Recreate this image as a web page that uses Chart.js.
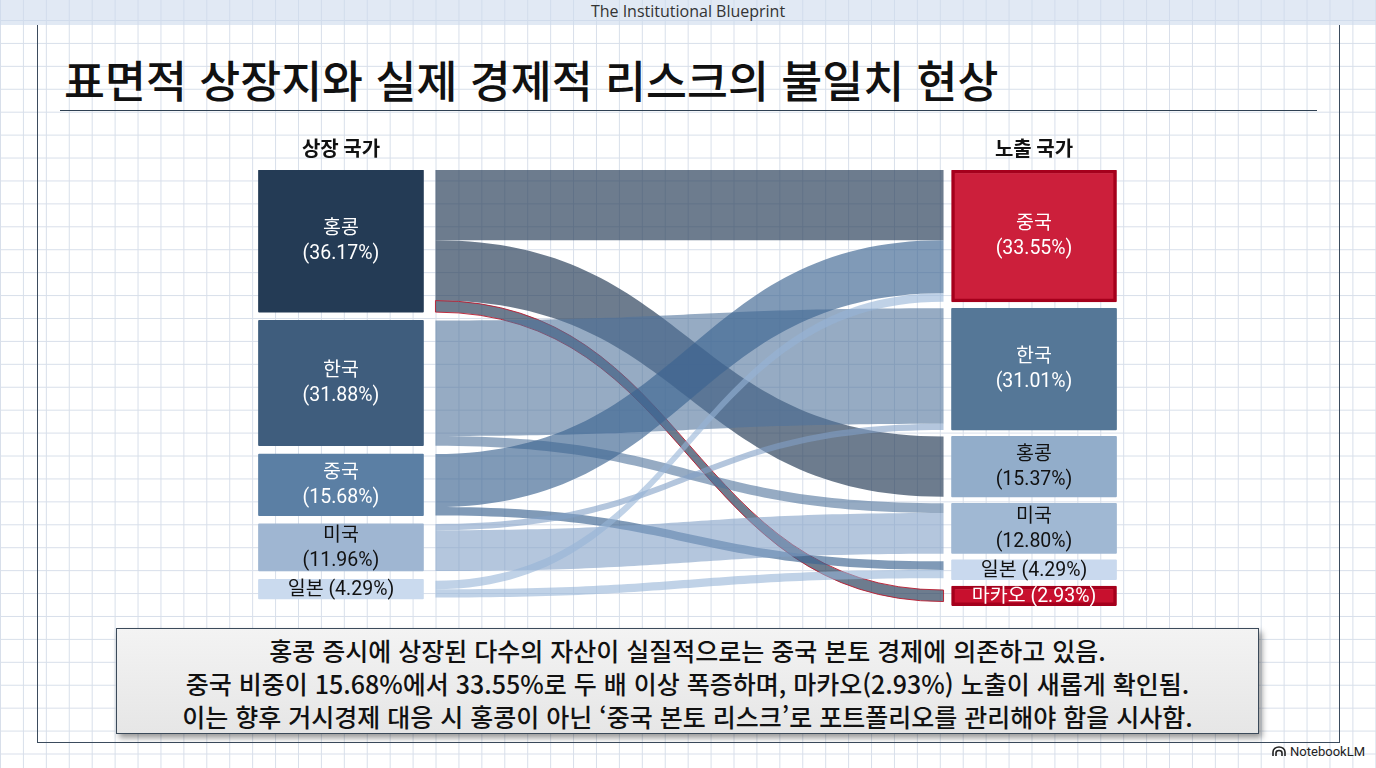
<!DOCTYPE html>
<html lang="ko">
<head>
<meta charset="utf-8">
<title>표면적 상장지와 실제 경제적 리스크의 불일치 현상</title>
<script src="https://cdn.jsdelivr.net/npm/chart.js@4.4.1/dist/chart.umd.min.js"></script>
<style>
  html, body { margin: 0; padding: 0; }
  body {
    width: 1376px; height: 768px; overflow: hidden; position: relative;
    background-color: #fff;
    background-image:
      linear-gradient(to right, #d8dfea 1px, transparent 1px),
      linear-gradient(to bottom, #d8dfea 1px, transparent 1px);
    background-size: 22.93px 22.93px;
    background-position: 0 20px;
    font-family: 'Noto Sans CJK KR', 'Noto Sans', sans-serif;
    color: #111;
  }
  .topband {
    position: absolute; left: 0; top: 0; width: 1376px; height: 25px;
    background: rgba(205, 218, 236, 0.6);
    font-family: 'Open Sans', 'Noto Sans', sans-serif;
    font-size: 16px; line-height: 23px; text-align: center; color: #333;
  }
  .frame {
    position: absolute; left: 37px; top: 25px; width: 1301px; height: 717px;
    border-left: 1.5px solid #3b4b5d; border-right: 1.5px solid #3b4b5d;
    border-bottom: 1.5px solid #3b4b5d;
  }
  h1 {
    position: absolute; left: 64px; top: 50px; margin: 0;
    font-size: 44.5px; font-weight: 500; line-height: 58px; white-space: nowrap;
  }
  .rule {
    position: absolute; left: 60px; top: 110px; width: 1257px; height: 0;
    border-top: 1.5px solid #2f4052;
  }
  #wrap { position: absolute; left: 237px; top: 126px; width: 901px; height: 484px; }
  .note {
    position: absolute; left: 116px; top: 628px; width: 1141px; height: 99px;
    border: 1.5px solid #3b4a5a;
    background: linear-gradient(#f3f3f3, #e6e6e6);
    box-shadow: 3px 4px 6px rgba(0, 0, 0, 0.4);
    text-align: center; font-size: 25px; font-weight: 500; line-height: 33px; padding-top: 5px;
    box-sizing: content-box; white-space: nowrap;
  }
  .brand {
    position: absolute; right: 11px; top: 744px;
    font-family: Roboto, 'Noto Sans', sans-serif; font-size: 13px; color: #222;
    display: flex; align-items: center; gap: 4px;
  }
</style>
</head>
<body>
<div class="topband">The Institutional Blueprint</div>
<div class="frame"></div>
<h1>표면적 상장지와 실제 경제적 리스크의 불일치 현상</h1>
<div class="rule"></div>
<div id="wrap"><canvas id="sankey" width="901" height="484"></canvas></div>
<div class="note">
  홍콩 증시에 상장된 다수의 자산이 실질적으로는 중국 본토 경제에 의존하고 있음.<br>
  중국 비중이 15.68%에서 33.55%로 두 배 이상 폭증하며, 마카오(2.93%) 노출이 새롭게 확인됨.<br>
  이는 향후 거시경제 대응 시 홍콩이 아닌 ‘중국 본토 리스크’로 포트폴리오를 관리해야 함을 시사함.
</div>
<div class="brand">
  <svg width="14" height="11" viewBox="0 0 14 11"><path d="M1 10 V6 A6 5 0 0 1 13 6 V10 M4 10 V7 A3 2.5 0 0 1 10 7 V10" fill="none" stroke="#222" stroke-width="1.6"/></svg>
  NotebookLM
</div>
<script>
// ── DATA ─────────────────────────────────────────────
const columnTitles = ['상장 국가', '노출 국가'];
const leftNodes = ['홍콩', '한국', '중국', '미국', '일본'];
const leftShares = [36.17, 31.88, 15.68, 11.96, 4.29];
const rightNodes = ['중국', '한국', '홍콩', '미국', '일본', '마카오'];
const rightShares = [33.55, 31.01, 15.37, 12.80, 4.29, 2.93];

// flows: listing country -> exposure country (%)
const flowFrom  = ['홍콩', '홍콩', '홍콩', '한국', '한국', '중국', '중국', '미국', '미국', '일본', '일본'];
const flowTo    = ['중국', '홍콩', '마카오', '한국', '미국', '중국', '일본', '한국', '미국', '중국', '일본'];
const flowValue = [17.87, 15.37, 2.93, 29.41, 2.47, 13.48, 2.20, 1.60, 10.36, 2.20, 2.09];

// ── STYLE ────────────────────────────────────────────
const leftFill  = ['#243b55', '#3f5d7d', '#5b7fa4', '#9fb6d2', '#cadaee'];
const rightFill = ['#cc1f3b', '#557797', '#92adca', '#a0b8d3', '#c9d9ee', '#c8102e'];
const leftInk   = ['#fff', '#fff', '#fff', '#111', '#111'];
const rightInk  = ['#fff', '#fff', '#111', '#111', '#111', '#fff'];
const hotNodes  = ['중국', '마카오'];
const flowFill  = {
  '홍콩': 'rgba(40,62,88,0.68)',
  '한국': 'rgba(80,115,155,0.6)',
  '중국': 'rgba(60,100,145,0.65)',
  '미국': 'rgba(130,160,198,0.6)',
  '일본': 'rgba(150,180,215,0.6)'
};
const leftGap = 2.12, rightGap = 1.63, minSpan = 5;

// node layout in share units: tiny nodes get a minimum visible height
function layout(shares, gap) {
  const start = [], pad = [];
  let acc = 0;
  shares.forEach(s => {
    const span = Math.max(s, minSpan);
    start.push(acc); pad.push((span - s) / 2);
    acc += span + gap;
  });
  return { start, pad };
}
const L = layout(leftShares, leftGap);
const R = layout(rightShares, rightGap);

const bars = [
  ...leftShares.map((s, i) => ({ x: 0, y: [L.start[i], L.start[i] + Math.max(s, minSpan)] })),
  ...rightShares.map((s, i) => ({ x: 1, y: [R.start[i], R.start[i] + Math.max(s, minSpan)] }))
];
const nLeft = leftNodes.length;

// ── FLOWS PLUGIN ─────────────────────────────────────
const flowPlugin = {
  id: 'flows',
  beforeDatasetsDraw(chart) {
    const ctx = chart.ctx;
    const y = chart.scales.y;
    const els = chart.getDatasetMeta(0).data;
    const outUsed = leftNodes.map((n, i) => L.start[i] + L.pad[i]);
    const inUsed = rightNodes.map((n, i) => R.start[i] + R.pad[i]);
    ctx.save();
    flowValue.forEach((v, k) => {
      const si = leftNodes.indexOf(flowFrom[k]);
      const ti = rightNodes.indexOf(flowTo[k]);
      const s = els[si], t = els[nLeft + ti];
      const x0 = s.x + s.width / 2 + 12;
      const x1 = t.x - t.width / 2 - 8;
      const y0a = y.getPixelForValue(outUsed[si]);
      const y0b = y.getPixelForValue(outUsed[si] + v);
      const y1a = y.getPixelForValue(inUsed[ti]);
      const y1b = y.getPixelForValue(inUsed[ti] + v);
      outUsed[si] += v; inUsed[ti] += v;
      const xm = (x0 + x1) / 2;
      ctx.beginPath();
      ctx.moveTo(x0, y0a);
      ctx.bezierCurveTo(xm, y0a, xm, y1a, x1, y1a);
      ctx.lineTo(x1, y1b);
      ctx.bezierCurveTo(xm, y1b, xm, y0b, x0, y0b);
      ctx.closePath();
      ctx.fillStyle = flowFill[flowFrom[k]];
      ctx.fill();
      if (flowTo[k] === '마카오') {
        ctx.strokeStyle = 'rgba(185,25,45,0.9)';
        ctx.lineWidth = 1;
        ctx.stroke();
      }
    });
    ctx.restore();
  }
};

// ── NODE LABELS PLUGIN ───────────────────────────────
const labelPlugin = {
  id: 'nodeLabels',
  afterDatasetsDraw(chart) {
    const ctx = chart.ctx;
    const els = chart.getDatasetMeta(0).data;
    ctx.save();
    ctx.textAlign = 'center';
    ctx.textBaseline = 'middle';
    ctx.font = "19.5px Roboto, 'Noto Sans CJK KR', sans-serif";
    els.forEach((el, i) => {
      const left = i < nLeft;
      const j = left ? i : i - nLeft;
      const name = left ? leftNodes[j] : rightNodes[j];
      const share = (left ? leftShares[j] : rightShares[j]).toFixed(2);
      ctx.fillStyle = left ? leftInk[j] : rightInk[j];
      const top = Math.min(el.y, el.base), bottom = Math.max(el.y, el.base);
      const cy = (top + bottom) / 2 + 1;
      if (bottom - top < 34) {
        ctx.fillText(name + ' (' + share + '%)', el.x, cy);
      } else {
        ctx.fillText(name, el.x, cy - 12.5);
        ctx.fillText('(' + share + '%)', el.x, cy + 12.5);
      }
    });
    ctx.restore();
  }
};

new Chart(document.getElementById('sankey'), {
  type: 'bar',
  data: {
    datasets: [{
      data: bars,
      backgroundColor: [...leftFill, ...rightFill],
      borderColor: [...leftNodes.map(() => 'transparent'),
        ...rightNodes.map(n => hotNodes.includes(n) ? '#a5001c' : 'transparent')],
      borderWidth: [...leftNodes.map(() => 0),
        ...rightNodes.map(n => hotNodes.includes(n) ? 3.5 : 0)],
      borderSkipped: false,
      borderRadius: 1,
      barThickness: 165,
      grouped: false
    }]
  },
  options: {
    responsive: false,
    animation: false,
    events: [],
    layout: { padding: 0 },
    plugins: { legend: { display: false }, tooltip: { enabled: false } },
    scales: {
      x: {
        type: 'linear',
        position: 'top',
        min: -0.15, max: 1.15,
        offset: false,
        afterBuildTicks: scale => { scale.ticks = [{ value: 0 }, { value: 1 }]; },
        grid: { display: false, drawTicks: false, tickLength: 0 },
        border: { display: false },
        ticks: {
          autoSkip: false, maxRotation: 0, padding: 10, color: '#111',
          font: { family: "'Noto Sans CJK KR', sans-serif", size: 20, weight: 'bold' },
          callback: v => columnTitles[v]
        }
      },
      y: {
        type: 'linear',
        reverse: true,
        min: 0, max: 112,
        display: false
      }
    }
  },
  plugins: [flowPlugin, labelPlugin]
});
</script>
</body>
</html>
